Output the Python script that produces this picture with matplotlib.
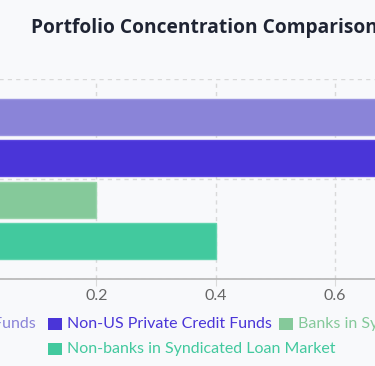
import matplotlib
matplotlib.use("Agg")
from matplotlib import pyplot as plt
from matplotlib.patches import Rectangle

plt.rcParams['font.family'] = ['Lato', 'DejaVu Sans']

series = ["US Private Credit Funds", "Non-US Private Credit Funds",
          "Banks in Syndicated Loan Market", "Non-banks in Syndicated Loan Market"]
values = [0.8, 0.9, 0.2, 0.4]
fill_colors = ["#8a84d8", "#4a35d8", "#85c99a", "#42c99e"]
edge_colors = ["#9a95e0", "#5a46e0", "#9ad4ac", "#5fd3ad"]
x_ticks = [0, 0.2, 0.4, 0.6, 0.8]

W, H = 375, 366
bg = "#f8f9fb"
fig = plt.figure(figsize=(W / 100, H / 100), dpi=100, facecolor=bg)

# axes run past the figure edges (the reference is a crop of a wider chart)
x0_px, x08_px = -23, 454
top_px, bot_px = 79, 279
ax = fig.add_axes([x0_px / W, (H - bot_px) / H, (x08_px - x0_px) / W, (bot_px - top_px) / H])
ax.set_facecolor(bg)

bar_h = 0.18
step = 0.205
for i, (v, fc, ec) in enumerate(zip(values, fill_colors, edge_colors)):
    y = 0.5 + (1.5 - i) * step
    ax.barh(y, v, height=bar_h, color=fc, edgecolor=ec, linewidth=1, zorder=3)

ax.set_xlim(0, 0.8)
ax.set_ylim(0, 1)
ax.set_xticks(x_ticks)
# the 0 and 0.8 labels fall outside the cropped view
ax.set_xticklabels(["" if t in (0, 0.8) else str(t) for t in x_ticks])
ax.set_yticks([0, 0.5, 1])
ax.set_yticklabels([])
ax.grid(True, color="#d9d9d9", linestyle=(0, (3, 3)), linewidth=1, zorder=0)
ax.tick_params(axis='x', length=5, color="#d9d9d9", labelsize=11.5, labelcolor="#666666", pad=2)
ax.tick_params(axis='y', length=0)
for s in ["top", "right", "left"]:
    ax.spines[s].set_visible(False)
ax.spines["bottom"].set_color("#b5b5b5")
ax.spines["bottom"].set_linewidth(1.2)

fig.text(31 / W, 1 - 28 / H, "Portfolio Concentration Comparison", fontsize=13.8,
         fontweight='bold', family=['Open Sans', 'DejaVu Sans'], color="#1f2433",
         ha='left', va='center')

# legend drawn by hand, it is clipped by the figure edge
legend_pos = [(36, 324, 'right'), (67, 324, 'left'), (298, 324, 'left'), (67, 349, 'left')]
for name, fc, (lx, ly, ha) in zip(series, fill_colors, legend_pos):
    fig.text(lx / W, 1 - ly / H, name, fontsize=11.5, color=fc, ha=ha, va='center')
    if ha == 'left':
        bx = lx - 19
        fig.patches.append(Rectangle((bx / W, 1 - (ly + 6) / H), 14 / W, 12 / H,
                                     transform=fig.transFigure, facecolor=fc,
                                     edgecolor='none'))

fig.savefig("out.png", dpi=100, facecolor=bg)
